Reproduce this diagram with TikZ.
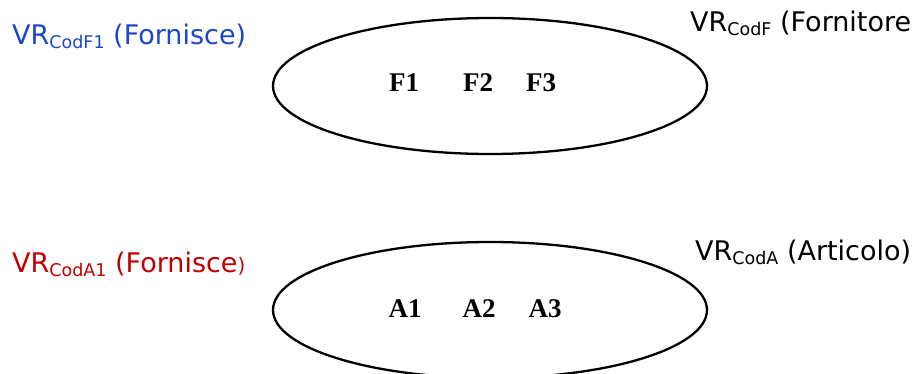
\documentclass[tikz,border=0pt]{standalone}
\usepackage{fontspec}
\setmainfont{DejaVu Sans}
\newfontfamily\elemfont{Liberation Serif}
\usetikzlibrary{positioning,shapes.geometric}
\definecolor{blu}{HTML}{1B47C8}
\definecolor{rosso}{HTML}{C00000}
\newcommand{\vrsub}[1]{VR\raisebox{-4pt}{\fontsize{17.5}{19}\selectfont #1}}

\begin{document}
\begin{tikzpicture}[x=1pt, y=-1pt,
      insieme/.style={draw, ellipse, line width=2.3pt, minimum width=434pt,
                      minimum height=136pt, inner sep=0pt},
      elem/.style={font=\elemfont\bfseries\fontsize{27}{30}\selectfont, anchor=base, inner sep=0pt},
      lbl/.style={font=\fontsize{27}{30}\selectfont, anchor=base west, inner sep=0pt}]
    \useasboundingbox (0,0) rectangle (917,374);
    % Fornitore
    \node[insieme] (fset) at (490,86) {};
    \node[elem] (f1) at (404,92) {F1};
    \node[elem] (f2) at (478,92) {F2};
    \node[elem] (f3) at (541,92) {F3};
    \node[lbl, text=blu] (vrf1) at (12,45) {\vrsub{CodF1} (Fornisce)};
    \node[lbl] (vrf) at (690,32) {\vrsub{CodF} (Fornitore};
    % Articolo
    \node[insieme] (aset) at (490,310) {};
    \node[elem] (a1) at (405,317) {A1};
    \node[elem] (a2) at (479,317) {A2};
    \node[elem] (a3) at (545,317) {A3};
    \node[lbl, text=rosso] (vra1) at (12,272) {\vrsub{CodA1} (Fornisce{\fontsize{20}{22}\selectfont)}};
    \node[lbl] (vra) at (695,260) {\vrsub{CodA} (Articolo)};
  \end{tikzpicture}
\end{document}
